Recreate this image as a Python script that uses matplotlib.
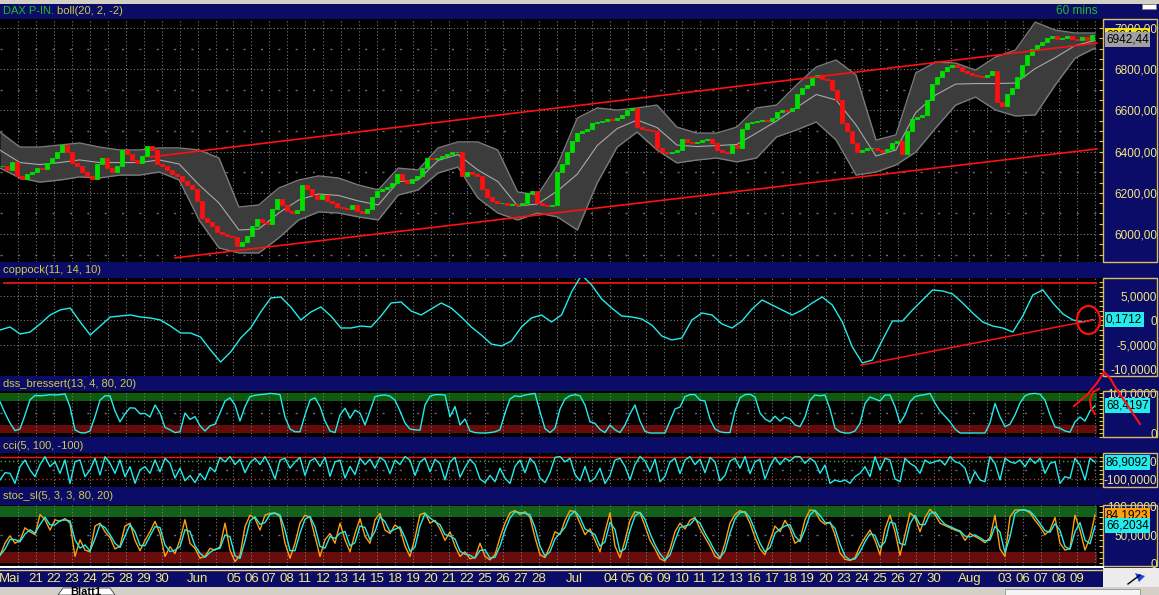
import numpy as np
import pandas as pd
import matplotlib.pyplot as plt
import matplotlib.transforms as mtransforms
from matplotlib.patches import Rectangle, Ellipse, Polygon
from matplotlib.lines import Line2D
from matplotlib.ticker import MultipleLocator

plt.rcParams['font.family'] = ['Liberation Sans', 'DejaVu Sans']

W, H = 1159, 595

# ---- data (x in chart "slot" units, 1 slot = 1 px) ----
price_close = [
    6330, 6310, 6350, 6280, 6265, 6290, 6300, 6320, 6315, 6345,
    6370, 6400, 6430, 6400, 6345, 6330, 6300, 6280, 6265, 6340,
    6370, 6320, 6300, 6330, 6410, 6390, 6360, 6345, 6380, 6425,
    6410, 6340, 6330, 6310, 6290, 6280, 6255, 6240, 6220, 6160,
    6080, 6060, 6040, 6010, 6000, 5990, 5985, 5940, 5960, 5990,
    6040, 6075, 6060, 6050, 6120, 6170, 6140, 6110, 6100, 6115,
    6240, 6220, 6190, 6170, 6190, 6160, 6150, 6130, 6125, 6120,
    6140, 6110, 6100, 6120, 6180, 6210, 6220, 6230, 6250, 6290,
    6260, 6250, 6265, 6280, 6320, 6370, 6365, 6370, 6380, 6390,
    6400, 6400, 6280, 6300, 6290, 6280, 6220, 6180, 6160, 6150,
    6150, 6140, 6145, 6140, 6150, 6200, 6210, 6150, 6140, 6135,
    6140, 6300, 6340, 6400, 6450, 6490, 6500, 6510, 6540, 6545,
    6550, 6560, 6555, 6565, 6580, 6600, 6610, 6520, 6510, 6505,
    6500, 6420, 6400, 6395, 6400, 6410, 6460, 6445, 6440, 6445,
    6455, 6460, 6440, 6410, 6400, 6395, 6430, 6420, 6510, 6540,
    6545, 6550, 6555, 6550, 6565, 6590, 6600, 6595, 6610, 6680,
    6710, 6725, 6760, 6770, 6755, 6750, 6700, 6650, 6540, 6500,
    6440, 6400, 6410, 6420, 6420, 6410, 6400, 6415, 6440, 6450,
    6390, 6500, 6560, 6570, 6580, 6650, 6730, 6760, 6790, 6810,
    6820, 6810, 6790, 6780, 6770, 6765, 6760, 6770, 6790, 6640,
    6620, 6680, 6710, 6760, 6820, 6870, 6900, 6920, 6930, 6950,
    6960, 6945, 6950, 6960, 6945, 6940, 6955, 6940, 6964.88]

boll_upper = [6495, 6422, 6422, 6432, 6442, 6422, 6408, 6408, 6418, 6418,
              6408, 6369, 6131, 6141, 6223, 6262, 6282, 6272, 6238, 6214,
              6320, 6311, 6418, 6447, 6447, 6408, 6204, 6189, 6335, 6563,
              6612, 6602, 6612, 6626, 6519, 6490, 6490, 6519, 6612, 6626,
              6723, 6811, 6845, 6772, 6456, 6481, 6782, 6835, 6830, 6796,
              6859, 6893, 7029, 6990, 6976, 6976]
boll_lower = [6320, 6272, 6252, 6262, 6277, 6272, 6286, 6286, 6301, 6262,
              6068, 5932, 5908, 5908, 5981, 6068, 6107, 6102, 6083, 6068,
              6189, 6214, 6296, 6325, 6175, 6102, 6068, 6102, 6083, 6019,
              6248, 6422, 6495, 6408, 6345, 6359, 6369, 6350, 6369, 6471,
              6505, 6544, 6456, 6286, 6301, 6335, 6398, 6515, 6626, 6665,
              6602, 6573, 6578, 6723, 6854, 6903]

chan_upper_x, chan_upper_v = [150, 1097], [6374, 6927]
chan_lower_x, chan_lower_v = [175, 1097], [5884, 6413]

coppock = [-1.98, -1.35, -2.81, -2.40, -0.73, 1.15, 2.19, 2.60, -0.31, -3.02,
           -1.15, 0.73, 0.94, 1.15, 0.73, 0.52, 0.10, -1.15, -2.60, -2.60,
           -3.44, -6.15, -8.65, -6.56, -3.65, -1.56, 1.77, 4.69, 4.90, 2.81,
           0.10, 1.77, 2.81, 0.94, -1.56, -1.56, -1.15, -1.35, 0.94, 3.65,
           3.85, 1.98, 1.15, 2.40, 3.65, 2.60, 0.73, -1.35, -3.02, -4.90,
           -5.31, -4.27, -1.35, 0.52, 1.15, -0.31, 1.15, 5.94, 9.48, 7.40,
           4.48, 2.60, 0.94, 0.73, 0.31, -0.94, -3.23, -4.06, -3.65, 0.10,
           1.56, 1.15, -0.73, -1.56, -0.10, 2.40, 4.27, 3.23, 2.19, 1.15,
           2.19, 3.65, 4.90, 3.23, -0.31, -5.52, -8.85, -8.23, -4.06, -0.10,
           -0.10, 2.19, 4.27, 6.35, 6.15, 5.52, 3.65, 1.56, -0.31, -1.15,
           -1.56, -2.40, 0.94, 5.31, 6.35, 3.65, 1.35, 0.10, -0.31, 0.17]
coppock_level = 7.8
copp_trend_x, copp_trend_v = [861, 1093], [-9.3, 0.1]

dss = [78, 50, 25, 6, 10, 45, 83, 94, 93, 94,
       96, 95, 96, 98, 66, 8, 1, 0, 5, 41,
       82, 93, 93, 55, 28, 48, 63, 62, 48, 49,
       40, 70, 50, 14, 8, 1, 3, 50, 34, 41,
       18, 5, 18, 22, 50, 80, 88, 70, 30, 66,
       91, 94, 96, 97, 99, 98, 96, 40, 10, 3,
       3, 45, 82, 88, 66, 30, 5, 1, 45, 62,
       37, 57, 50, 20, 55, 91, 94, 95, 92, 82,
       55, 25, 10, 8, 7, 70, 92, 96, 96, 95,
       41, 66, 20, 35, 5, 1, 0, 0, 1, 3,
       8, 50, 85, 93, 91, 95, 97, 99, 53, 11,
       1, 12, 60, 85, 93, 96, 93, 70, 28, 24,
       9, 1, 20, 8, 1, 20, 48, 70, 30, 4,
       0, 0, 0, 0, 30, 60, 65, 91, 96, 96,
       82, 80, 35, 10, 3, 1, 1, 55, 88, 96,
       97, 90, 50, 35, 28, 42, 30, 40, 35, 20,
       16, 40, 82, 95, 93, 95, 60, 12, 3, 0,
       0, 5, 24, 74, 90, 85, 80, 95, 95, 66,
       25, 45, 78, 91, 94, 96, 99, 75, 55, 42,
       28, 10, 0, 0, 0, 0, 0, 0, 25, 74,
       40, 16, 22, 45, 75, 93, 98, 99, 97, 82,
       45, 15, 12, 5, 2, 28, 40, 30, 55, 68.42]

cci = [-111, -30, -37, -148, 37, 111, 0, -74, 60, 148,
       37, 92, -37, 111, -150, 92, 111, -74, 0, 130,
       -55, 148, 74, -37, 111, -74, 37, -148, 0, 37,
       -37, 111, -20, 130, 74, -90, 20, -120, -60, -140,
       -40, -110, 30, -20, 140, 90, 150, 60, 120, -30,
       80, 130, 60, 150, 40, -100, 110, 130, 20, 90,
       140, -60, 100, 130, 40, 140, -70, 90, 110, -90,
       40, -50, 130, 60, 120, 20, 140, 100, -40, 110,
       60, 150, 110, -60, 90, 130, -20, 120, 70, -110,
       90, 140, -80, 30, 120, 60, -100, -140, -60, -130,
       20, -90, -150, 40, 110, -30, 130, 70, -90, -140,
       -30, 140, 150, 90, 130, -50, -120, 40, -130, -90,
       20, -150, -60, 110, 130, 40, -110, 60, 150, 100,
       -20, 120, -130, -70, 90, 130, -40, 110, 150, 60,
       120, -30, 140, 90, -120, -60, 100, 130, 20, 150,
       -40, 90, 120, -100, 40, 140, 60, 130, 100, 150,
       148, 74, 130, 92, -37, 55, -148, -111, -130, -111,
       -148, -74, -37, 37, -74, 148, 0, 130, 111, -100,
       -130, 130, 74, 40, -37, 111, 74, 92, 111, 55,
       148, 92, 74, 20, -148, -18, -111, -130, 148, 74,
       -111, 130, 92, 74, 111, 37, 130, 74, 130, -37,
       74, 92, -148, -74, -92, 130, 55, -111, 130, 86.91]
cci_levels = [150, 100, -100]

stoch_k = [14, 35, 48, 35, 40, 62, 55, 50, 85, 76,
           58, 76, 73, 78, 70, 12, 41, 23, 20, 65,
           70, 55, 45, 25, 30, 65, 70, 40, 22, 40,
           55, 73, 52, 12, 29, 17, 41, 76, 35, 26,
           9, 12, 26, 23, 29, 70, 23, 3, 14, 64,
           84, 78, 58, 84, 87, 88, 81, 35, 9, 35,
           70, 84, 80, 47, 12, 41, 52, 35, 70, 41,
           20, 52, 78, 47, 35, 76, 87, 58, 52, 67,
           60, 30, 12, 45, 85, 88, 70, 75, 60, 40,
           55, 30, 12, 20, 8, 10, 35, 12, 6, 15,
           45, 70, 88, 92, 85, 90, 80, 45, 15, 10,
           30, 55, 50, 75, 92, 90, 70, 50, 60, 40,
           20, 55, 88, 30, 10, 40, 75, 90, 88, 65,
           40, 25, 8, 4, 25, 55, 70, 60, 75, 80,
           60, 45, 30, 12, 8, 35, 70, 85, 92, 88,
           70, 45, 25, 15, 40, 65, 55, 75, 60, 35,
           41, 76, 93, 92, 75, 68, 72, 50, 18, 7,
           5, 10, 30, 45, 58, 40, 15, 60, 84, 55,
           14, 50, 88, 80, 55, 80, 94, 85, 70, 66,
           62, 58, 55, 40, 52, 47, 42, 36, 45, 84,
           25, 12, 81, 93, 93, 93, 88, 75, 64, 50,
           58, 80, 35, 23, 26, 84, 58, 23, 45, 84.19]

last_labels = {'price': (6964.88, '6964,88'), 'mid': (6942.44, '6942,44'),
               'coppock': (0.1712, '0,1712'), 'dss': (68.4197, '68,4197'),
               'cci': (86.9092, '86,9092'), 'stoch_k': (84.1923, '84,1923'),
               'stoch_d': (66.2034, '66,2034')}

day_idx = [-1.5, 0, 1, 2, 3, 4, 5, 6, 7, 9, 11, 12, 13, 14, 15, 16, 17, 18, 19, 20,
           21, 22, 23, 24, 25, 26, 27, 28, 30, 32, 33, 34, 35, 36, 37, 38, 39, 40,
           41, 42, 43, 44, 45, 46, 47, 48, 49, 50, 52, 54, 55, 56, 57, 58]
day_lbl = ['Mai', '21', '22', '23', '24', '25', '28', '29', '30', 'Jun', '05', '06',
           '07', '08', '11', '12', '13', '14', '15', '18', '19', '20', '21', '22',
           '25', '26', '27', '28', 'Jul', '04', '05', '06', '09', '10', '11', '12',
           '13', '16', '17', '18', '19', '20', '23', '24', '25', '26', '27', '30',
           'Aug', '03', '06', '07', '08', '09']

# ---- colours ----
NAVY = '#0b0b68'
YEL = '#f2ea80'
GOLD = '#d8c060'
HDR = '#d0cc40'
GREEN = '#00e000'
RED = '#ff1010'
CYAN = '#22ecec'
ORANGE = '#ffa010'
GRID = '#7a7a7a'

X_END, DATA_END = 1103, 1097
day_x = 36 + 17.95 * np.arange(-1, 60)

fig = plt.figure(figsize=(W / 100, H / 100), dpi=100, facecolor=NAVY)


def fbox(x0, y0, x1, y1):
    return [x0 / W, 1 - y1 / H, (x1 - x0) / W, (y1 - y0) / H]


def rect(x0, y0, x1, y1, **kw):
    fig.add_artist(Rectangle((x0 / W, 1 - y1 / H), (x1 - x0) / W, (y1 - y0) / H,
                             transform=fig.transFigure, **kw))


def fline(xs, ys, **kw):
    fig.add_artist(Line2D(np.array(xs) / W, 1 - np.array(ys) / H,
                          transform=fig.transFigure, **kw))


def ftext(x, y, s, **kw):
    fig.text(x / W, 1 - y / H, s, va='center', **kw)


def panel(y0, y1, ylim, ticks, labels, minor):
    ax = fig.add_axes(fbox(0, y0, X_END, y1))
    ax.set_facecolor('black')
    for s in ax.spines.values():
        s.set_visible(False)
    ax.set_xlim(0, X_END)
    ax.set_ylim(*ylim)
    ax.yaxis.tick_right()
    ax.set_yticks(ticks)
    ax.set_yticklabels(labels)
    ax.yaxis.set_minor_locator(MultipleLocator(minor))
    ax.tick_params(axis='y', which='both', direction='in', length=3, width=0.8,
                   color=GOLD, labelcolor=YEL, labelsize=8.5, pad=38.9)
    for t in ax.get_yticklabels():
        t.set_ha('right')
    ax.tick_params(axis='x', bottom=False, labelbottom=False)
    for x in day_x:
        ax.axvline(x, color=GRID, lw=0.8, ls=(0, (1, 2)), zorder=1)
    rect(X_END, y0, 1157, y1, fill=False, ec=GOLD, lw=1)
    return ax


def value_box(ax, key, fc):
    val, txt = last_labels[key]
    tr = mtransforms.blended_transform_factory(ax.transAxes, ax.transData)
    ax.text(1106 / X_END, val, txt, transform=tr, fontsize=8.5, color='black',
            va='center', ha='left', clip_on=False, zorder=10,
            bbox=dict(boxstyle='square,pad=0.12', fc=fc, ec='none'))


def minor_grid(ax, y, color='#6a6a88'):
    ax.hlines(y, 0, DATA_END, color=color, lw=1, ls=(0, (1.5, 11)), zorder=1)


def dot_grid(ax, y, color=GRID):
    ax.hlines(y, 0, DATA_END, color=color, lw=0.8, ls=(0, (1, 2)), zorder=1)


# ---- window chrome ----
rect(0, 0, W, 4, fc='#d4d0c8', ec='none')
rect(1142, 4, 1156, 9, fc='white', ec='#808080', lw=0.5)
rect(0, 587, W, H, fc='#d4d0c8', ec='none')
fig.add_artist(Polygon([(58 / W, 0), (63 / W, 1 - 588 / H), (110 / W, 1 - 588 / H), (115 / W, 0)],
                       closed=True, transform=fig.transFigure, fc='white', ec='#404040', lw=0.6))
ftext(70, 592, 'Blatt1', fontsize=8, fontweight='bold', color='black')
rect(1005, 589, 1140, 595, fc='#f4f4f4', ec='#909090', lw=0.6)
rect(X_END, 568, W, 587, fc='#ececec', ec='none')
fline([1128, 1140], [584, 575], color='black', lw=1)
fig.add_artist(Polygon([(1135 / W, 1 - 573 / H), (1145 / W, 1 - 576 / H), (1139 / W, 1 - 582 / H)],
                       closed=True, transform=fig.transFigure, fc='#2040e0', ec='none'))

# ---- price panel ----
axp = panel(19, 262, (5864, 7044), [6000, 6200, 6400, 6600, 6800, 7000],
            ['6000,00', '6200,00', '6400,00', '6600,00', '6800,00', '7000,00'], 50)
for v in [6000, 6200, 6400, 6600, 6800, 7000]:
    dot_grid(axp, v)
for v in [5900, 6100, 6300, 6500, 6700, 6900]:
    minor_grid(axp, v)

xb = np.linspace(0, 1095, len(boll_upper))
up = np.array(boll_upper, float)
lo = np.array(boll_lower, float)
axp.fill_between(xb, lo, up, color='#3c3c3c', lw=0, zorder=2)
axp.plot(xb, up, color='#7a7a7a', lw=1, zorder=2)
axp.plot(xb, lo, color='#7a7a7a', lw=1, zorder=2)
axp.plot(xb, (up + lo) / 2, color='#a8a8a8', lw=0.8, zorder=2)

close = np.array(price_close, float)
opn = np.r_[close[0], close[:-1]]
xp = 2 + 5 * np.arange(len(close))
cols = np.where(close >= opn, GREEN, RED)
axp.bar(xp, close - opn, bottom=opn, width=3.4, color=cols, edgecolor=cols, lw=0.6, zorder=3)

axp.plot(chan_upper_x, chan_upper_v, color=RED, lw=1.2, zorder=4)
axp.plot(chan_lower_x, chan_lower_v, color=RED, lw=1.2, zorder=4)
value_box(axp, 'price', '#f0e020')
value_box(axp, 'mid', '#a0a0a0')

ftext(3, 11, 'DAX P-IN.', fontsize=8, color='#20c020')
ftext(57, 11, 'boll(20, 2, -2)', fontsize=8, color=HDR)
ftext(1098, 11, '60 mins', fontsize=8.5, color='#20c020', ha='right')

# ---- coppock ----
axc = panel(278, 376, (-11.56, 8.85), [5, 0, -5, -10],
            ['5,0000', '0', '-5,0000', '-10,0000'], 1)
for v in [5, 0, -5]:
    dot_grid(axc, v)
axc.hlines(coppock_level, 3, DATA_END, color=RED, lw=1.2, zorder=3)
xc = np.linspace(0, 1093, len(coppock))
axc.plot(xc, coppock, color=CYAN, lw=1, zorder=4)
axc.plot(copp_trend_x, copp_trend_v, color=RED, lw=1.1, zorder=5)
axc.add_patch(Ellipse((copp_trend_x[1] - 4.5, copp_trend_v[1]), 23, 28 / 4.8,
                      fill=False, ec=RED, lw=1.6, zorder=6, clip_on=False))
value_box(axc, 'coppock', CYAN)
ftext(3, 270, 'coppock(11, 14, 10)', fontsize=8, color=HDR)

# ---- dss bressert ----
axd = panel(391, 437, (-10, 105), [100, 0], ['100,0000', '0'], 10)
axd.axhspan(80, 100, xmin=0, xmax=DATA_END / X_END, color='#0e5a0e', lw=0, zorder=0.5)
axd.axhspan(0, 20, xmin=0, xmax=DATA_END / X_END, color='#660a0a', lw=0, zorder=0.5)
minor_grid(axd, 50)
xs = np.linspace(0, 1095, len(dss))
axd.plot(xs, dss, color=CYAN, lw=1, zorder=4)
value_box(axd, 'dss', CYAN)
ftext(3, 384, 'dss_bressert(13, 4, 80, 20)', fontsize=8, color=HDR)

# hand drawn marks
fline([1074, 1087, 1097, 1104, 1110, 1117, 1128, 1140],
      [406, 395, 383, 372, 378, 390, 406, 424], color=RED, lw=1.5)
fline([1099, 1093, 1090, 1091, 1095], [389, 392, 400, 408, 414], color=RED, lw=1.5)

# ---- cci ----
axi = panel(453, 487, (-189, 189), [100, -100], ['100,0000', '-100,0000'], 50)
axi.hlines(cci_levels[0], 0, DATA_END, color=RED, lw=1, zorder=3)
axi.hlines(cci_levels[1], 0, DATA_END, color='#38b038', lw=1, ls=(0, (1, 2)), zorder=3)
axi.hlines(cci_levels[2], 0, DATA_END, color='#b03838', lw=1, ls=(0, (1, 2)), zorder=3)
minor_grid(axi, 0)
axi.plot(xs, cci, color=CYAN, lw=1, zorder=4)
value_box(axi, 'cci', CYAN)
ftext(3, 446, 'cci(5, 100, -100)', fontsize=8, color=HDR)

# ---- stochastic ----
axs = panel(505, 566, (-4.7, 101.7), [100, 50, 0], ['100,0000', '50,0000', '0'], 10)
axs.axhspan(80, 100, xmin=0, xmax=DATA_END / X_END, color='#13601a', lw=0, zorder=0.5)
axs.axhspan(0, 20, xmin=0, xmax=DATA_END / X_END, color='#680c0c', lw=0, zorder=0.5)
minor_grid(axs, 50)
k = pd.Series(stoch_k, dtype=float)
d = k.rolling(2, min_periods=1).mean()
axs.plot(xs, k, color=ORANGE, lw=1, zorder=4)
axs.plot(xs, d, color=CYAN, lw=1, zorder=5)
value_box(axs, 'stoch_k', ORANGE)
value_box(axs, 'stoch_d', CYAN)
ftext(3, 496, 'stoc_sl(5, 3, 3, 80, 20)', fontsize=8, color=HDR)

axs.set_xticks(36 + 17.95 * np.array(day_idx))
axs.set_xticklabels(day_lbl)
axs.tick_params(axis='x', bottom=True, labelbottom=True, length=0, pad=5,
                labelsize=9.5, labelcolor=YEL)

# date strip borders
fline([0, X_END], [566.5, 566.5], color='white', lw=1.5)
fline([0, X_END], [569.5, 569.5], color='#e0d070', lw=1)

fig.savefig('out.png', dpi=100, facecolor=fig.get_facecolor())
